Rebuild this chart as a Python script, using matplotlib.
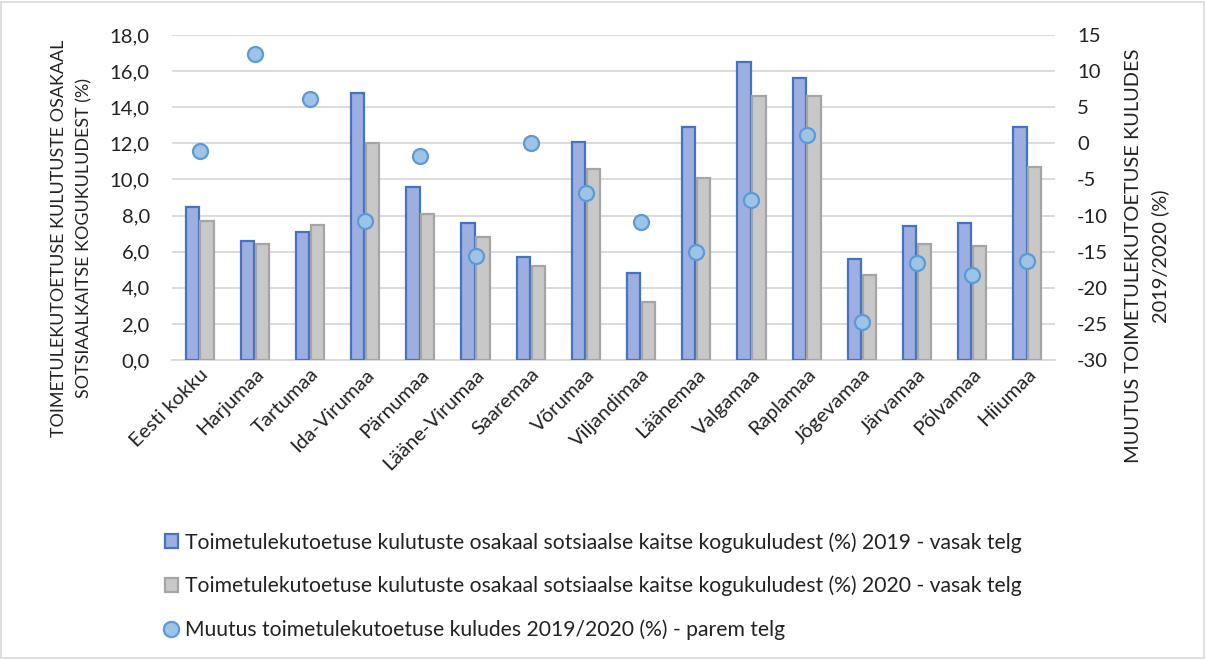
import numpy as np
import matplotlib
matplotlib.use("Agg")
import matplotlib.pyplot as plt
from matplotlib.patches import Rectangle
from matplotlib.lines import Line2D
from matplotlib.patches import Patch

plt.rcParams['font.family'] = ['Lato', 'DejaVu Sans']
plt.rcParams['axes.unicode_minus'] = False

categories = ["Eesti kokku", "Harjumaa", "Tartumaa", "Ida-Virumaa", "Pärnumaa",
              "Lääne-Virumaa", "Saaremaa", "Võrumaa", "Viljandimaa", "Läänemaa",
              "Valgamaa", "Raplamaa", "Jõgevamaa", "Järvamaa", "Põlvamaa", "Hiiumaa"]
share_2019 = [8.5, 6.6, 7.1, 14.8, 9.6, 7.6, 5.7, 12.1, 4.8, 12.9, 16.5, 15.6, 5.6, 7.4, 7.6, 12.9]
share_2020 = [7.7, 6.4, 7.5, 12.0, 8.1, 6.8, 5.2, 10.6, 3.2, 10.1, 14.6, 14.6, 4.7, 6.4, 6.3, 10.7]
change = [-1.1, 12.4, 6.2, -10.7, -1.8, -15.6, 0.0, -6.9, -10.9, -15.1, -7.9, 1.1, -24.7, -16.6, -18.3, -16.3]

left_ticks = [0, 2, 4, 6, 8, 10, 12, 14, 16, 18]
right_ticks = [-30, -25, -20, -15, -10, -5, 0, 5, 10, 15]

label_2019 = "Toimetulekutoetuse kulutuste osakaal sotsiaalse kaitse kogukuludest (%) 2019 - vasak telg"
label_2020 = "Toimetulekutoetuse kulutuste osakaal sotsiaalse kaitse kogukuludest (%) 2020 - vasak telg"
label_change = "Muutus toimetulekutoetuse kuludes 2019/2020 (%) - parem telg"

W, H = 1206, 659
fig = plt.figure(figsize=(W / 100, H / 100), dpi=100)
ax = fig.add_axes([172 / W, 1 - 360 / H, (1055 - 172) / W, (360 - 35) / H])

x = np.arange(len(categories))
bw = 0.24
off = 0.135
c19_face, c19_edge = '#9CAFE0', '#4472C4'
c20_face, c20_edge = '#C8C8C8', '#A5A5A5'
ax.bar(x - off, share_2019, width=bw, color=c19_face, edgecolor=c19_edge, linewidth=1.6, zorder=3)
ax.bar(x + off, share_2020, width=bw, color=c20_face, edgecolor=c20_edge, linewidth=1.6, zorder=3)

tick_fs = 14.6
ax.set_xlim(-0.5, len(categories) - 0.5)
ax.set_ylim(0, 18)
ax.set_yticks(left_ticks)
ax.set_yticklabels([f"{v:.1f}".replace('.', ',') for v in left_ticks], fontsize=tick_fs, color='#222222')
ax.yaxis.grid(True, color='#D9D9D9', linewidth=1.3, zorder=0)
ax.set_axisbelow(True)
for s in ['top', 'right', 'left']:
    ax.spines[s].set_visible(False)
ax.spines['bottom'].set_color('#D9D9D9')
ax.spines['bottom'].set_linewidth(1.3)
ax.tick_params(axis='y', length=0, pad=16)
ax.tick_params(axis='x', length=0, pad=4)
ax.set_xticks(x)
ax.set_xticklabels(categories, rotation=45, ha='right', rotation_mode='anchor', fontsize=tick_fs, color='#222222')

ax2 = ax.twinx()
ax2.set_ylim(-30, 15)
ax2.set_yticks(right_ticks)
ax2.set_yticklabels([str(v) for v in right_ticks], fontsize=tick_fs, color='#222222')
ax2.tick_params(axis='y', length=0, pad=16)
for s in ['top', 'right', 'left', 'bottom']:
    ax2.spines[s].set_visible(False)
m_face, m_edge = '#9DC3E6', '#5B9BD5'
ax2.plot(x, change, linestyle='none', marker='o', markersize=10.8,
         markerfacecolor=m_face, markeredgecolor=m_edge, markeredgewidth=1.6, zorder=5)

fig.text(71.5 / W, 1 - 238 / H, "TOIMETULEKUTOETUSE KULUTUSTE OSAKAAL\nSOTSIAALKAITSE KOGUKULUDEST (%)",
         rotation=90, ha='center', va='center', multialignment='center', fontsize=12.9,
         color='#222222', linespacing=1.75)
fig.text(1147 / W, 1 - 256 / H, "MUUTUS TOIMETULEKUTOETUSE KULUDES\n2019/2020 (%)",
         rotation=90, ha='center', va='center', multialignment='center', fontsize=14.4,
         color='#222222', linespacing=1.6)

handles = [
    Patch(facecolor=c19_face, edgecolor=c19_edge, linewidth=1.6),
    Patch(facecolor=c20_face, edgecolor=c20_edge, linewidth=1.6),
    Line2D([], [], linestyle='none', marker='o', markersize=11,
           markerfacecolor=m_face, markeredgecolor=m_edge, markeredgewidth=1.6),
]
fig.legend(handles, [label_2019, label_2020, label_change],
           loc='upper left', bbox_to_anchor=(146 / W, 1 - 513 / H),
           frameon=False, fontsize=15.2, labelspacing=1.1, handlelength=0.6,
           handleheight=0.6, handletextpad=0.35, labelcolor='#222222')

fig.patches.append(Rectangle((1 / W, 1 / H), 1 - 3 / W, 1 - 3 / H, transform=fig.transFigure,
                             fill=False, edgecolor='#D9D9D9', linewidth=1.2))

fig.savefig("out.png", dpi=100)
